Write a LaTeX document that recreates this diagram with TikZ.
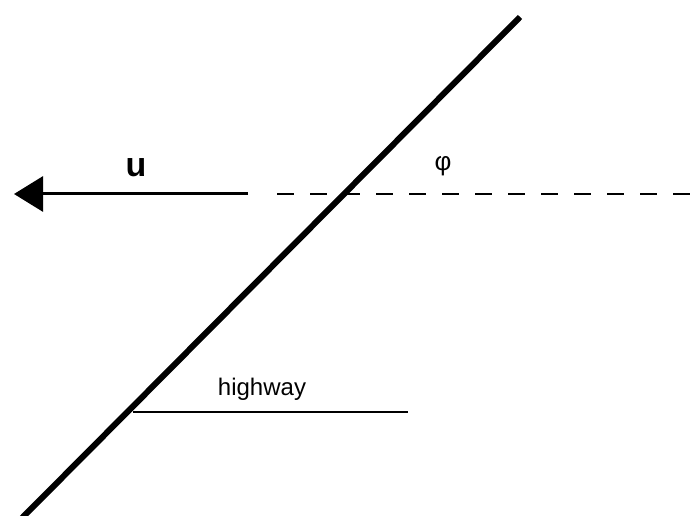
\documentclass[tikz,border=0pt]{standalone}
\usepackage{fontspec}
\setmainfont{Liberation Sans}
\usetikzlibrary{arrows.meta}
\begin{document}
\begin{tikzpicture}[x=0.5pt, y=0.5pt]
  \useasboundingbox (0, 0) rectangle (692, 515);
  \coordinate (hwlow) at (22, -3);
  \coordinate (hwtop) at (520, 498);
  \coordinate (ustart) at (248, 321);
  \coordinate (utip) at (14, 321);
  \coordinate (dstart) at (277, 321);
  \coordinate (dend) at (692, 321);
  \coordinate (ulinea) at (133, 103);
  \coordinate (ulineb) at (408, 103);
  \draw[line width=3pt] (hwlow) -- (hwtop);
  \draw[line width=1.5pt, -{Triangle[length=14.5pt, width=17.5pt]}] (ustart) -- (utip);
  \draw[line width=1pt, dash pattern=on 8.5pt off 8pt] (dstart) -- (dend);
  \draw[line width=0.75pt] (ulinea) -- (ulineb);
  \node[font=\fontsize{17}{20}\selectfont\bfseries] (u) at (136, 347) {u};
  \node[font=\fontsize{13}{15}\selectfont] (phi) at (443, 349) {φ};
  \node[font=\fontsize{12}{14}\selectfont] (hw) at (262, 126) {highway};
\end{tikzpicture}
\end{document}
